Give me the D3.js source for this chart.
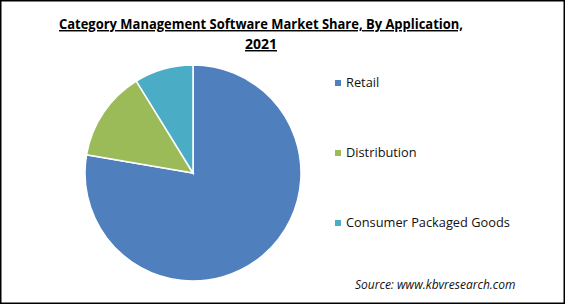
<!DOCTYPE html>
<html>
<head>
<meta charset="utf-8">
<script src="https://cdn.jsdelivr.net/npm/d3@7"></script>
<style>
  body { margin: 0; background: #fff; }
  svg { display: block; }
</style>
</head>
<body>
<div id="chart"></div>
<script>
// data
var categories = ["Retail", "Distribution", "Consumer Packaged Goods"];
var shares = [77.7, 13.5, 8.8];
var colors = ["#4f7fbd", "#9bbb59", "#4bacc6"];

var width = 565, height = 304;
var cx = 193, cy = 173, radius = 108;

var svg = d3.select("#chart").append("svg")
    .attr("width", width)
    .attr("height", height);

// outer frame
svg.append("rect")
    .attr("x", 0.75).attr("y", 0.75)
    .attr("width", width - 1.5).attr("height", height - 1.5)
    .attr("fill", "#fff")
    .attr("stroke", "#000")
    .attr("stroke-width", 1.5);

// title
var title = svg.append("text")
    .attr("text-anchor", "middle")
    .style("font-family", "'Open Sans', Carlito, sans-serif")
    .style("font-weight", "bold")
    .style("font-size", "14.5px")
    .style("text-decoration", "underline")
    .attr("fill", "#000");
title.append("tspan").attr("x", 261).attr("y", 29)
    .attr("textLength", 404).attr("lengthAdjust", "spacingAndGlyphs")
    .text("Category Management Software Market Share, By Application,");
title.append("tspan").attr("x", 261).attr("y", 49)
    .attr("textLength", 32).attr("lengthAdjust", "spacingAndGlyphs")
    .text("2021");

// pie
var data = categories.map(function (c, i) {
    return {name: c, value: shares[i], color: colors[i]};
});

var pie = d3.pie()
    .sort(null)
    .value(function (d) { return d.value; });

var arc = d3.arc()
    .innerRadius(0)
    .outerRadius(radius);

svg.append("g")
    .attr("transform", "translate(" + cx + "," + cy + ")")
    .selectAll("path")
    .data(pie(data))
    .enter().append("path")
    .attr("d", arc)
    .attr("fill", function (d) { return d.data.color; })
    .attr("stroke", "#fff")
    .attr("stroke-width", 1.5);

// legend
var legendY = d3.scalePoint()
    .domain(categories)
    .range([83, 223]);

var legend = svg.append("g")
    .selectAll("g")
    .data(data)
    .enter().append("g")
    .attr("transform", function (d) {
        return "translate(335," + legendY(d.name) + ")";
    });

legend.append("rect")
    .attr("x", 0).attr("y", -3)
    .attr("width", 6).attr("height", 6)
    .attr("fill", function (d) { return d.color; });

legend.append("text")
    .attr("x", 11)
    .attr("dy", "0.35em")
    .style("font-family", "'Open Sans', Carlito, sans-serif")
    .style("font-size", "12.8px")
    .attr("fill", "#111")
    .text(function (d) { return d.name; });

// source note
svg.append("text")
    .attr("x", 355).attr("y", 289)
    .style("font-family", "'Open Sans', Carlito, sans-serif")
    .style("font-style", "italic")
    .style("font-size", "12px")
    .attr("fill", "#111")
    .text("Source:  www.kbvresearch.com");
</script>
</body>
</html>
